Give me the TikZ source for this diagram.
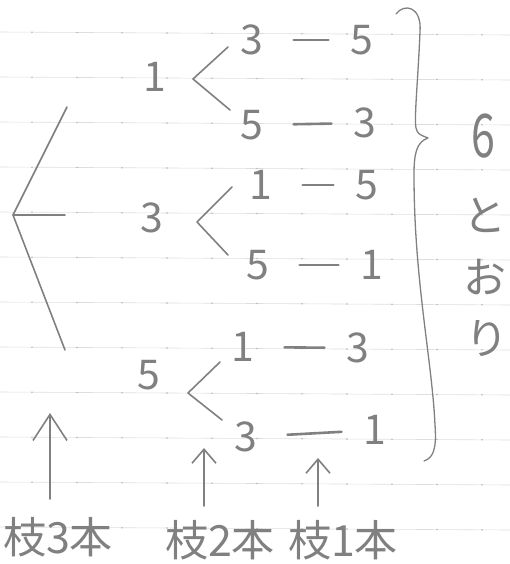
\documentclass[tikz,border=0pt]{standalone}
\usepackage{fontspec}
\setmainfont{Noto Sans CJK JP}
\usetikzlibrary{arrows.meta, calc}
\definecolor{pencil}{RGB}{128,128,128}
\definecolor{ruled}{RGB}{222,222,222}
\definecolor{ruledot}{RGB}{185,185,185}
\tikzstyle{num} = [inner sep=0pt, text=pencil, font=\fontsize{41}{41}\selectfont]
\tikzstyle{kanji} = [inner sep=0pt, text=pencil, font=\fontsize{43}{43}\selectfont]
\tikzstyle{branch} = [draw=pencil, line width=1.6pt, line cap=round, line join=round]
\tikzstyle{pairdash} = [branch, line width=2.6pt, shorten <=30pt, shorten >=22pt]
\tikzstyle{bigarrow} = [branch, -{Straight Barb[length=26pt, width=34pt, line width=1.6pt]}]
\tikzstyle{smallarrow} = [branch, -{Straight Barb[length=14pt, width=24pt, line width=1.6pt]}]

\begin{document}
\begin{tikzpicture}[x=1pt, y=-1pt]
  \useasboundingbox (0,0) rectangle (510,564);

  % ruled notebook paper
  \foreach \y in {32,77,...,527} {
    \draw[ruled, line width=0.6pt] (0,\y) -- (510,\y+3);
    \foreach \x in {32,77,...,482}
      \fill[ruledot] (\x,\y+\x*3/510) circle (0.9pt);
  }

  % first branch (3 choices)
  \coordinate (root) at (13,215);
  \coordinate (rootA) at (67,107);
  \coordinate (rootB) at (65,215);
  \coordinate (rootC) at (65,350);
  \draw[branch] (rootA) -- (root) -- (rootC);
  \draw[branch] (root) -- (rootB);

  \node[num] (n1) at (155,77) {1};
  \node[num] (n3) at (152,218) {3};
  \node[num] (n5) at (149,375) {5};

  % second branch (2 choices)
  \coordinate (f1) at (193,79);
  \coordinate (f1a) at (228,47);
  \coordinate (f1b) at (230,110);
  \coordinate (f3) at (197,222);
  \coordinate (f3a) at (232,187);
  \coordinate (f3b) at (228,255);
  \coordinate (f5) at (188,393);
  \coordinate (f5a) at (220,362);
  \coordinate (f5b) at (222,420);
  \draw[branch] (f1a) -- (f1) -- (f1b);
  \draw[branch] (f3a) -- (f3) -- (f3b);
  \draw[branch] (f5a) -- (f5) -- (f5b);

  \node[num] (n13) at (252,40) {3};
  \node[num] (n135) at (362,40) {5};
  \node[num] (n15) at (252,125) {5};
  \node[num] (n153) at (365,123) {3};
  \node[num] (n31) at (261,185) {1};
  \node[num] (n315) at (367,185) {5};
  \node[num] (n35) at (258,265) {5};
  \node[num] (n351) at (372,265) {1};
  \node[num] (n51) at (243,347) {1};
  \node[num] (n513) at (358,348) {3};
  \node[num] (n53) at (246,437) {3};
  \node[num] (n531) at (375,430) {1};

  % last branch (1 choice)
  \draw[pairdash] (n13) -- (n135);
  \draw[pairdash] (n15) -- (n153);
  \draw[pairdash] (n31) -- (n315);
  \draw[pairdash] (n35) -- (n351);
  \draw[pairdash] (n51) -- (n513);
  \draw[pairdash] (n53) -- (n531);

  % brace and total
  \draw[branch, line width=1.3pt] (396,14) .. controls (404,3) and (422,6) .. (420,32)
    .. controls (418,80) and (414,118) .. (416,128) .. controls (418,134) .. (428,138)
    .. controls (416,142) and (414,155) .. (414,175) .. controls (414,280) and (432,360) .. (435,425)
    .. controls (437,452) and (432,458) .. (424,461);
  \node[kanji] (six) at (483,136) {\scalebox{1}[1.4]{6}};
  \node[kanji] (to) at (485,215) {と};
  \node[kanji] (o) at (485,277) {お};
  \node[kanji] (ri) at (487,339) {り};

  % labels under the columns
  \coordinate (tip3) at (50,413);
  \coordinate (tip2) at (204,448);
  \coordinate (tip1) at (318,458);
  \node[kanji] (lab3) at (58,537) {枝3本};
  \node[kanji] (lab2) at (220,540) {枝2本};
  \node[kanji] (lab1) at (343,540) {枝1本};
  \draw[bigarrow, shorten <=18pt] (lab3.north -| tip3) -- (tip3);
  \draw[smallarrow, shorten <=14pt] (lab2.north -| tip2) -- (tip2);
  \draw[smallarrow, shorten <=14pt] (lab1.north -| tip1) -- (tip1);
\end{tikzpicture}
\end{document}
